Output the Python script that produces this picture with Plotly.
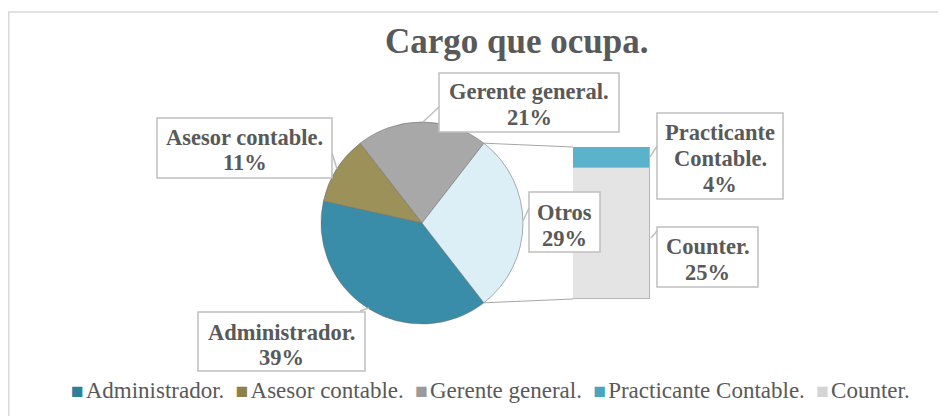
import math
import plotly.graph_objects as go

# ---------------- data ----------------
title_text = "Cargo que ocupa."
categories = ["Administrador.", "Asesor contable.", "Gerente general.", "Practicante Contable.", "Counter."]
values = [39, 11, 21, 4, 25]          # percent
other_label = "Otros"
colors = ["#3A8DA8", "#9C9158", "#A8A8A8", "#5AB3CB", "#E4E4E4"]
other_color = "#DCEEF6"
legend_colors = ["#2F7F98", "#8C8248", "#9A9A9A", "#4AA6C0", "#D4D4D4"]

# ---------------- layout helpers (window pixels -> paper) ----------------
W, H = 946, 416
OFF = 8   # default page body margin
FONT = "Liberation Serif, Times New Roman, serif"
TXT = "#595959"
def px(x): return (x - OFF) / W
def py(y): return 1 - (y - OFF) / H

pie_labels = categories[:3] + [other_label]
pie_values = values[:3] + [sum(values[3:])]
pie_colors = colors[:3] + [other_color]
other_share = pie_values[-1] / sum(pie_values)
rotation = 90 + other_share * 180     # keeps "Otros" centred at 3 o'clock

# pie geometry (pixels)
cx, cy, r = 422, 223, 101
# bar geometry (pixels)
bx0, bx1, by0, by1 = 573, 650, 147, 299

fig = go.Figure()
fig.add_trace(go.Pie(
    labels=pie_labels, values=pie_values, sort=False, direction="clockwise",
    rotation=rotation, marker=dict(colors=pie_colors, line=dict(color="rgba(110,110,110,0.55)", width=1)),
    textinfo="none", hoverinfo="label+percent", showlegend=False,
    domain=dict(x=[px(cx - r), px(cx + r)], y=[py(cy + r), py(cy - r)]),
))

# stacked bar of the "Otros" breakdown (Counter at bottom, Practicante on top)
for name, val, col in [(categories[4], values[4], colors[4]), (categories[3], values[3], colors[3])]:
    fig.add_trace(go.Bar(x=[other_label], y=[val], name=name,
                         marker=dict(color=col, line=dict(color="#B5B5B5", width=1)),
                         showlegend=False, hoverinfo="name+y"))

a = math.radians(other_share * 180)
p_top = (cx + r * math.cos(a), cy - r * math.sin(a))
p_bot = (cx + r * math.cos(a), cy + r * math.sin(a))

GRAY = "#A6A6A6"
BOX = "#BFBFBF"
shapes = [
    # chart border
    dict(type="rect", xref="paper", yref="paper", x0=px(8.75), y0=py(440), x1=px(970), y1=py(12),
         line=dict(color="#D9D9D9", width=1.5)),
    # connector lines pie -> bar
    dict(type="line", xref="paper", yref="paper", x0=px(p_top[0]), y0=py(p_top[1]), x1=px(bx0), y1=py(by0),
         line=dict(color=GRAY, width=1)),
    dict(type="line", xref="paper", yref="paper", x0=px(p_bot[0]), y0=py(p_bot[1]), x1=px(bx0), y1=py(by1),
         line=dict(color=GRAY, width=1)),
]

# label boxes: (x0, y0, x1, y1, lines, line centres, leader line)
labels = [
    (198, 312, 365, 371, [categories[0], f"{values[0]}%"], [332, 357], [(360, 311), (369, 308)]),
    (157, 118, 332, 178, [categories[1], f"{values[1]}%"], [137, 162], [(332, 153), (337, 169)]),
    (439, 73, 619, 132, [categories[2], f"{values[2]}%"], [92, 117], [(439, 107), (423, 122)]),
    (529, 192, 600, 252, [other_label, f"{pie_values[3]}%"], [212, 238], [(529, 208), (523, 221)]),
    (657, 113, 783, 199, categories[3].split(" ") + [f"{values[3]}%"], [133, 159, 185], [(657, 146), (650, 157)]),
    (657, 227, 758, 287, [categories[4], f"{values[4]}%"], [246, 272], [(657, 231), (651, 238)]),
]
annotations = []
for x0, y0, x1, y1, lines, ys, leader in labels:
    shapes.append(dict(type="rect", xref="paper", yref="paper", x0=px(x0), y0=py(y1), x1=px(x1), y1=py(y0),
                       line=dict(color=BOX, width=1.5), fillcolor="white", layer="above"))
    shapes.append(dict(type="line", xref="paper", yref="paper", x0=px(leader[0][0]), y0=py(leader[0][1]),
                       x1=px(leader[1][0]), y1=py(leader[1][1]), line=dict(color=BOX, width=1.5)))
    for t, yy in zip(lines, ys):
        annotations.append(dict(text=f"<b>{t}</b>", x=px((x0 + x1) / 2), y=py(yy), xref="paper", yref="paper",
                                xanchor="center", yanchor="middle", showarrow=False,
                                font=dict(family=FONT, size=22.5, color=TXT)))

# title
annotations.append(dict(text=f"<b>{title_text}</b>", x=px(517), y=py(41), xref="paper", yref="paper",
                        xanchor="center", yanchor="middle", showarrow=False,
                        font=dict(family=FONT, size=35, color=TXT)))

# legend (single row)
legend_text = "&nbsp;&nbsp;".join(
    f'<span style="color:{c};font-size:21px">■</span><span style="font-size:8px">&nbsp;</span>{n}'
    for n, c in zip(categories, legend_colors))
annotations.append(dict(text=legend_text, x=px(490), y=py(390), xref="paper", yref="paper",
                        xanchor="center", yanchor="middle", showarrow=False,
                        font=dict(family=FONT, size=23, color=TXT)))

fig.update_layout(
    width=W, height=H, margin=dict(l=0, r=0, t=0, b=0),
    paper_bgcolor="white", plot_bgcolor="rgba(0,0,0,0)",
    barmode="stack", bargap=0,
    xaxis=dict(domain=[px(bx0), px(bx1)], range=[-0.5, 0.5], visible=False, fixedrange=True),
    yaxis=dict(domain=[py(by1), py(by0)], range=[0, pie_values[3]], visible=False, fixedrange=True),
    shapes=shapes, annotations=annotations,
)

fig.write_html("out.html")
